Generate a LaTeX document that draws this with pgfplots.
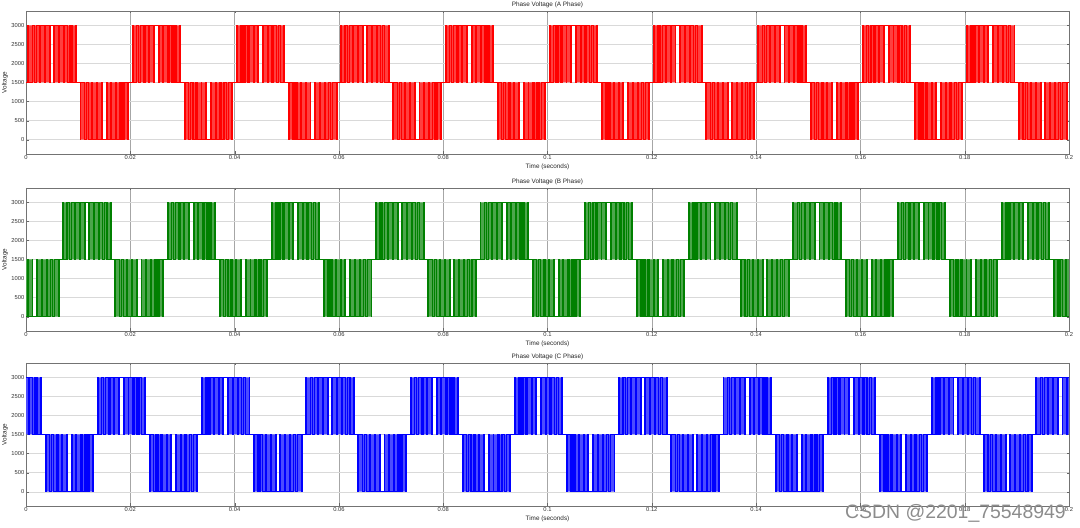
\documentclass[border=0pt]{standalone}
\usepackage{fontspec}
\setmainfont{Liberation Sans}
\usepackage{pgfplots}
\pgfplotsset{compat=1.18}
\usepackage{pgfplotstable}
\definecolor{mred}{RGB}{255,0,0}
\definecolor{mgreen}{RGB}{0,128,0}
\definecolor{mblue}{RGB}{0,0,255}

% ---------- Phase A ----------
\pgfplotstableread{
t v
0 1500
0.0004 3000
0.0046 1500
0.0054 3000
0.0096 1500
0.0104 0
0.0146 1500
0.0154 0
0.0196 1500
0.0204 3000
0.0246 1500
0.0254 3000
0.0296 1500
0.0304 0
0.0346 1500
0.0354 0
0.0396 1500
0.0404 3000
0.0446 1500
0.0454 3000
0.0496 1500
0.0504 0
0.0546 1500
0.0554 0
0.0596 1500
0.0604 3000
0.0646 1500
0.0654 3000
0.0696 1500
0.0704 0
0.0746 1500
0.0754 0
0.0796 1500
0.0804 3000
0.0846 1500
0.0854 3000
0.0896 1500
0.0904 0
0.0946 1500
0.0954 0
0.0996 1500
0.1004 3000
0.1046 1500
0.1054 3000
0.1096 1500
0.1104 0
0.1146 1500
0.1154 0
0.1196 1500
0.1204 3000
0.1246 1500
0.1254 3000
0.1296 1500
0.1304 0
0.1346 1500
0.1354 0
0.1396 1500
0.1404 3000
0.1446 1500
0.1454 3000
0.1496 1500
0.1504 0
0.1546 1500
0.1554 0
0.1596 1500
0.1604 3000
0.1646 1500
0.1654 3000
0.1696 1500
0.1704 0
0.1746 1500
0.1754 0
0.1796 1500
0.1804 3000
0.1846 1500
0.1854 3000
0.1896 1500
0.1904 0
0.1946 1500
0.1954 0
0.1996 1500
0.2 1500
}\Afill

\pgfplotstableread{
t v
0 1500
0.0004 3000
0.0005 1500
0.0012 3000
0.0016 1500
0.0020 3000
0.0026 1500
0.0028 3000
0.0036 1500
0.0037 3000
0.0045 1500
0.0046 3000
0.0054 1500
0.0055 3000
0.0063 1500
0.0064 3000
0.0072 1500
0.0074 3000
0.0080 1500
0.0084 3000
0.0088 1500
0.0095 3000
0.0096 1500
0.0104 0
0.0105 1500
0.0112 0
0.0116 1500
0.0120 0
0.0126 1500
0.0128 0
0.0136 1500
0.0137 0
0.0145 1500
0.0146 0
0.0154 1500
0.0155 0
0.0163 1500
0.0164 0
0.0172 1500
0.0174 0
0.0180 1500
0.0184 0
0.0188 1500
0.0195 0
0.0196 1500
0.0204 3000
0.0205 1500
0.0212 3000
0.0216 1500
0.0220 3000
0.0226 1500
0.0228 3000
0.0236 1500
0.0237 3000
0.0245 1500
0.0246 3000
0.0254 1500
0.0255 3000
0.0263 1500
0.0264 3000
0.0272 1500
0.0274 3000
0.0280 1500
0.0284 3000
0.0288 1500
0.0295 3000
0.0296 1500
0.0304 0
0.0305 1500
0.0312 0
0.0316 1500
0.0320 0
0.0326 1500
0.0328 0
0.0336 1500
0.0337 0
0.0345 1500
0.0346 0
0.0354 1500
0.0355 0
0.0363 1500
0.0364 0
0.0372 1500
0.0374 0
0.0380 1500
0.0384 0
0.0388 1500
0.0395 0
0.0396 1500
0.0404 3000
0.0405 1500
0.0412 3000
0.0416 1500
0.0420 3000
0.0426 1500
0.0428 3000
0.0436 1500
0.0437 3000
0.0445 1500
0.0446 3000
0.0454 1500
0.0455 3000
0.0463 1500
0.0464 3000
0.0472 1500
0.0474 3000
0.0480 1500
0.0484 3000
0.0488 1500
0.0495 3000
0.0496 1500
0.0504 0
0.0505 1500
0.0512 0
0.0516 1500
0.0520 0
0.0526 1500
0.0528 0
0.0536 1500
0.0537 0
0.0545 1500
0.0546 0
0.0554 1500
0.0555 0
0.0563 1500
0.0564 0
0.0572 1500
0.0574 0
0.0580 1500
0.0584 0
0.0588 1500
0.0595 0
0.0596 1500
0.0604 3000
0.0605 1500
0.0612 3000
0.0616 1500
0.0620 3000
0.0626 1500
0.0628 3000
0.0636 1500
0.0637 3000
0.0645 1500
0.0646 3000
0.0654 1500
0.0655 3000
0.0663 1500
0.0664 3000
0.0672 1500
0.0674 3000
0.0680 1500
0.0684 3000
0.0688 1500
0.0695 3000
0.0696 1500
0.0704 0
0.0705 1500
0.0712 0
0.0716 1500
0.0720 0
0.0726 1500
0.0728 0
0.0736 1500
0.0737 0
0.0745 1500
0.0746 0
0.0754 1500
0.0755 0
0.0763 1500
0.0764 0
0.0772 1500
0.0774 0
0.0780 1500
0.0784 0
0.0788 1500
0.0795 0
0.0796 1500
0.0804 3000
0.0805 1500
0.0812 3000
0.0816 1500
0.0820 3000
0.0826 1500
0.0828 3000
0.0836 1500
0.0837 3000
0.0845 1500
0.0846 3000
0.0854 1500
0.0855 3000
0.0863 1500
0.0864 3000
0.0872 1500
0.0874 3000
0.0880 1500
0.0884 3000
0.0888 1500
0.0895 3000
0.0896 1500
0.0904 0
0.0905 1500
0.0912 0
0.0916 1500
0.0920 0
0.0926 1500
0.0928 0
0.0936 1500
0.0937 0
0.0945 1500
0.0946 0
0.0954 1500
0.0955 0
0.0963 1500
0.0964 0
0.0972 1500
0.0974 0
0.0980 1500
0.0984 0
0.0988 1500
0.0995 0
0.0996 1500
0.1004 3000
0.1005 1500
0.1012 3000
0.1016 1500
0.1020 3000
0.1026 1500
0.1028 3000
0.1036 1500
0.1037 3000
0.1045 1500
0.1046 3000
0.1054 1500
0.1055 3000
0.1063 1500
0.1064 3000
0.1072 1500
0.1074 3000
0.1080 1500
0.1084 3000
0.1088 1500
0.1095 3000
0.1096 1500
0.1104 0
0.1105 1500
0.1112 0
0.1116 1500
0.1120 0
0.1126 1500
0.1128 0
0.1136 1500
0.1137 0
0.1145 1500
0.1146 0
0.1154 1500
0.1155 0
0.1163 1500
0.1164 0
0.1172 1500
0.1174 0
0.1180 1500
0.1184 0
0.1188 1500
0.1195 0
0.1196 1500
0.1204 3000
0.1205 1500
0.1212 3000
0.1216 1500
0.1220 3000
0.1226 1500
0.1228 3000
0.1236 1500
0.1237 3000
0.1245 1500
0.1246 3000
0.1254 1500
0.1255 3000
0.1263 1500
0.1264 3000
0.1272 1500
0.1274 3000
0.1280 1500
0.1284 3000
0.1288 1500
0.1295 3000
0.1296 1500
0.1304 0
0.1305 1500
0.1312 0
0.1316 1500
0.1320 0
0.1326 1500
0.1328 0
0.1336 1500
0.1337 0
0.1345 1500
0.1346 0
0.1354 1500
0.1355 0
0.1363 1500
0.1364 0
0.1372 1500
0.1374 0
0.1380 1500
0.1384 0
0.1388 1500
0.1395 0
0.1396 1500
0.1404 3000
0.1405 1500
0.1412 3000
0.1416 1500
0.1420 3000
0.1426 1500
0.1428 3000
0.1436 1500
0.1437 3000
0.1445 1500
0.1446 3000
0.1454 1500
0.1455 3000
0.1463 1500
0.1464 3000
0.1472 1500
0.1474 3000
0.1480 1500
0.1484 3000
0.1488 1500
0.1495 3000
0.1496 1500
0.1504 0
0.1505 1500
0.1512 0
0.1516 1500
0.1520 0
0.1526 1500
0.1528 0
0.1536 1500
0.1537 0
0.1545 1500
0.1546 0
0.1554 1500
0.1555 0
0.1563 1500
0.1564 0
0.1572 1500
0.1574 0
0.1580 1500
0.1584 0
0.1588 1500
0.1595 0
0.1596 1500
0.1604 3000
0.1605 1500
0.1612 3000
0.1616 1500
0.1620 3000
0.1626 1500
0.1628 3000
0.1636 1500
0.1637 3000
0.1645 1500
0.1646 3000
0.1654 1500
0.1655 3000
0.1663 1500
0.1664 3000
0.1672 1500
0.1674 3000
0.1680 1500
0.1684 3000
0.1688 1500
0.1695 3000
0.1696 1500
0.1704 0
0.1705 1500
0.1712 0
0.1716 1500
0.1720 0
0.1726 1500
0.1728 0
0.1736 1500
0.1737 0
0.1745 1500
0.1746 0
0.1754 1500
0.1755 0
0.1763 1500
0.1764 0
0.1772 1500
0.1774 0
0.1780 1500
0.1784 0
0.1788 1500
0.1795 0
0.1796 1500
0.1804 3000
0.1805 1500
0.1812 3000
0.1816 1500
0.1820 3000
0.1826 1500
0.1828 3000
0.1836 1500
0.1837 3000
0.1845 1500
0.1846 3000
0.1854 1500
0.1855 3000
0.1863 1500
0.1864 3000
0.1872 1500
0.1874 3000
0.1880 1500
0.1884 3000
0.1888 1500
0.1895 3000
0.1896 1500
0.1904 0
0.1905 1500
0.1912 0
0.1916 1500
0.1920 0
0.1926 1500
0.1928 0
0.1936 1500
0.1937 0
0.1945 1500
0.1946 0
0.1954 1500
0.1955 0
0.1963 1500
0.1964 0
0.1972 1500
0.1974 0
0.1980 1500
0.1984 0
0.1988 1500
0.1995 0
0.1996 1500
0.2 1500
}\Aedge

% ---------- Phase B ----------
\pgfplotstableread{
t v
0 1500
0 0
0.0013 1500
0.0021 0
0.0063 1500
0.0071 3000
0.0113 1500
0.0121 3000
0.0163 1500
0.0171 0
0.0213 1500
0.0221 0
0.0263 1500
0.0271 3000
0.0313 1500
0.0321 3000
0.0363 1500
0.0371 0
0.0413 1500
0.0421 0
0.0463 1500
0.0471 3000
0.0513 1500
0.0521 3000
0.0563 1500
0.0571 0
0.0613 1500
0.0621 0
0.0663 1500
0.0671 3000
0.0713 1500
0.0721 3000
0.0763 1500
0.0771 0
0.0813 1500
0.0821 0
0.0863 1500
0.0871 3000
0.0913 1500
0.0921 3000
0.0963 1500
0.0971 0
0.1013 1500
0.1021 0
0.1063 1500
0.1071 3000
0.1113 1500
0.1121 3000
0.1163 1500
0.1171 0
0.1213 1500
0.1221 0
0.1263 1500
0.1271 3000
0.1313 1500
0.1321 3000
0.1363 1500
0.1371 0
0.1413 1500
0.1421 0
0.1463 1500
0.1471 3000
0.1513 1500
0.1521 3000
0.1563 1500
0.1571 0
0.1613 1500
0.1621 0
0.1663 1500
0.1671 3000
0.1713 1500
0.1721 3000
0.1763 1500
0.1771 0
0.1813 1500
0.1821 0
0.1863 1500
0.1871 3000
0.1913 1500
0.1921 3000
0.1963 1500
0.1971 0
0.2 1500
}\Bfill

\pgfplotstableread{
t v
0 0
0.0003 1500
0.0004 0
0.0012 1500
0.0013 0
0.0021 1500
0.0022 0
0.0030 1500
0.0031 0
0.0039 1500
0.0041 0
0.0047 1500
0.0051 0
0.0055 1500
0.0062 0
0.0063 1500
0.0071 3000
0.0072 1500
0.0079 3000
0.0083 1500
0.0087 3000
0.0093 1500
0.0095 3000
0.0103 1500
0.0104 3000
0.0112 1500
0.0113 3000
0.0121 1500
0.0122 3000
0.0130 1500
0.0131 3000
0.0139 1500
0.0141 3000
0.0147 1500
0.0151 3000
0.0155 1500
0.0162 3000
0.0163 1500
0.0171 0
0.0172 1500
0.0179 0
0.0183 1500
0.0187 0
0.0193 1500
0.0195 0
0.0203 1500
0.0204 0
0.0212 1500
0.0213 0
0.0221 1500
0.0222 0
0.0230 1500
0.0231 0
0.0239 1500
0.0241 0
0.0247 1500
0.0251 0
0.0255 1500
0.0262 0
0.0263 1500
0.0271 3000
0.0272 1500
0.0279 3000
0.0283 1500
0.0287 3000
0.0293 1500
0.0295 3000
0.0303 1500
0.0304 3000
0.0312 1500
0.0313 3000
0.0321 1500
0.0322 3000
0.0330 1500
0.0331 3000
0.0339 1500
0.0341 3000
0.0347 1500
0.0351 3000
0.0355 1500
0.0362 3000
0.0363 1500
0.0371 0
0.0372 1500
0.0379 0
0.0383 1500
0.0387 0
0.0393 1500
0.0395 0
0.0403 1500
0.0404 0
0.0412 1500
0.0413 0
0.0421 1500
0.0422 0
0.0430 1500
0.0431 0
0.0439 1500
0.0441 0
0.0447 1500
0.0451 0
0.0455 1500
0.0462 0
0.0463 1500
0.0471 3000
0.0472 1500
0.0479 3000
0.0483 1500
0.0487 3000
0.0493 1500
0.0495 3000
0.0503 1500
0.0504 3000
0.0512 1500
0.0513 3000
0.0521 1500
0.0522 3000
0.0530 1500
0.0531 3000
0.0539 1500
0.0541 3000
0.0547 1500
0.0551 3000
0.0555 1500
0.0562 3000
0.0563 1500
0.0571 0
0.0572 1500
0.0579 0
0.0583 1500
0.0587 0
0.0593 1500
0.0595 0
0.0603 1500
0.0604 0
0.0612 1500
0.0613 0
0.0621 1500
0.0622 0
0.0630 1500
0.0631 0
0.0639 1500
0.0641 0
0.0647 1500
0.0651 0
0.0655 1500
0.0662 0
0.0663 1500
0.0671 3000
0.0672 1500
0.0679 3000
0.0683 1500
0.0687 3000
0.0693 1500
0.0695 3000
0.0703 1500
0.0704 3000
0.0712 1500
0.0713 3000
0.0721 1500
0.0722 3000
0.0730 1500
0.0731 3000
0.0739 1500
0.0741 3000
0.0747 1500
0.0751 3000
0.0755 1500
0.0762 3000
0.0763 1500
0.0771 0
0.0772 1500
0.0779 0
0.0783 1500
0.0787 0
0.0793 1500
0.0795 0
0.0803 1500
0.0804 0
0.0812 1500
0.0813 0
0.0821 1500
0.0822 0
0.0830 1500
0.0831 0
0.0839 1500
0.0841 0
0.0847 1500
0.0851 0
0.0855 1500
0.0862 0
0.0863 1500
0.0871 3000
0.0872 1500
0.0879 3000
0.0883 1500
0.0887 3000
0.0893 1500
0.0895 3000
0.0903 1500
0.0904 3000
0.0912 1500
0.0913 3000
0.0921 1500
0.0922 3000
0.0930 1500
0.0931 3000
0.0939 1500
0.0941 3000
0.0947 1500
0.0951 3000
0.0955 1500
0.0962 3000
0.0963 1500
0.0971 0
0.0972 1500
0.0979 0
0.0983 1500
0.0987 0
0.0993 1500
0.0995 0
0.1003 1500
0.1004 0
0.1012 1500
0.1013 0
0.1021 1500
0.1022 0
0.1030 1500
0.1031 0
0.1039 1500
0.1041 0
0.1047 1500
0.1051 0
0.1055 1500
0.1062 0
0.1063 1500
0.1071 3000
0.1072 1500
0.1079 3000
0.1083 1500
0.1087 3000
0.1093 1500
0.1095 3000
0.1103 1500
0.1104 3000
0.1112 1500
0.1113 3000
0.1121 1500
0.1122 3000
0.1130 1500
0.1131 3000
0.1139 1500
0.1141 3000
0.1147 1500
0.1151 3000
0.1155 1500
0.1162 3000
0.1163 1500
0.1171 0
0.1172 1500
0.1179 0
0.1183 1500
0.1187 0
0.1193 1500
0.1195 0
0.1203 1500
0.1204 0
0.1212 1500
0.1213 0
0.1221 1500
0.1222 0
0.1230 1500
0.1231 0
0.1239 1500
0.1241 0
0.1247 1500
0.1251 0
0.1255 1500
0.1262 0
0.1263 1500
0.1271 3000
0.1272 1500
0.1279 3000
0.1283 1500
0.1287 3000
0.1293 1500
0.1295 3000
0.1303 1500
0.1304 3000
0.1312 1500
0.1313 3000
0.1321 1500
0.1322 3000
0.1330 1500
0.1331 3000
0.1339 1500
0.1341 3000
0.1347 1500
0.1351 3000
0.1355 1500
0.1362 3000
0.1363 1500
0.1371 0
0.1372 1500
0.1379 0
0.1383 1500
0.1387 0
0.1393 1500
0.1395 0
0.1403 1500
0.1404 0
0.1412 1500
0.1413 0
0.1421 1500
0.1422 0
0.1430 1500
0.1431 0
0.1439 1500
0.1441 0
0.1447 1500
0.1451 0
0.1455 1500
0.1462 0
0.1463 1500
0.1471 3000
0.1472 1500
0.1479 3000
0.1483 1500
0.1487 3000
0.1493 1500
0.1495 3000
0.1503 1500
0.1504 3000
0.1512 1500
0.1513 3000
0.1521 1500
0.1522 3000
0.1530 1500
0.1531 3000
0.1539 1500
0.1541 3000
0.1547 1500
0.1551 3000
0.1555 1500
0.1562 3000
0.1563 1500
0.1571 0
0.1572 1500
0.1579 0
0.1583 1500
0.1587 0
0.1593 1500
0.1595 0
0.1603 1500
0.1604 0
0.1612 1500
0.1613 0
0.1621 1500
0.1622 0
0.1630 1500
0.1631 0
0.1639 1500
0.1641 0
0.1647 1500
0.1651 0
0.1655 1500
0.1662 0
0.1663 1500
0.1671 3000
0.1672 1500
0.1679 3000
0.1683 1500
0.1687 3000
0.1693 1500
0.1695 3000
0.1703 1500
0.1704 3000
0.1712 1500
0.1713 3000
0.1721 1500
0.1722 3000
0.1730 1500
0.1731 3000
0.1739 1500
0.1741 3000
0.1747 1500
0.1751 3000
0.1755 1500
0.1762 3000
0.1763 1500
0.1771 0
0.1772 1500
0.1779 0
0.1783 1500
0.1787 0
0.1793 1500
0.1795 0
0.1803 1500
0.1804 0
0.1812 1500
0.1813 0
0.1821 1500
0.1822 0
0.1830 1500
0.1831 0
0.1839 1500
0.1841 0
0.1847 1500
0.1851 0
0.1855 1500
0.1862 0
0.1863 1500
0.1871 3000
0.1872 1500
0.1879 3000
0.1883 1500
0.1887 3000
0.1893 1500
0.1895 3000
0.1903 1500
0.1904 3000
0.1912 1500
0.1913 3000
0.1921 1500
0.1922 3000
0.1930 1500
0.1931 3000
0.1939 1500
0.1941 3000
0.1947 1500
0.1951 3000
0.1955 1500
0.1962 3000
0.1963 1500
0.1971 0
0.1972 1500
0.1979 0
0.1983 1500
0.1987 0
0.1993 1500
0.1995 0
0.2 0
}\Bedge

% ---------- Phase C ----------
\pgfplotstableread{
t v
0 1500
0 3000
0.0029 1500
0.0037 0
0.0079 1500
0.0087 0
0.0129 1500
0.0137 3000
0.0179 1500
0.0187 3000
0.0229 1500
0.0237 0
0.0279 1500
0.0287 0
0.0329 1500
0.0337 3000
0.0379 1500
0.0387 3000
0.0429 1500
0.0437 0
0.0479 1500
0.0487 0
0.0529 1500
0.0537 3000
0.0579 1500
0.0587 3000
0.0629 1500
0.0637 0
0.0679 1500
0.0687 0
0.0729 1500
0.0737 3000
0.0779 1500
0.0787 3000
0.0829 1500
0.0837 0
0.0879 1500
0.0887 0
0.0929 1500
0.0937 3000
0.0979 1500
0.0987 3000
0.1029 1500
0.1037 0
0.1079 1500
0.1087 0
0.1129 1500
0.1137 3000
0.1179 1500
0.1187 3000
0.1229 1500
0.1237 0
0.1279 1500
0.1287 0
0.1329 1500
0.1337 3000
0.1379 1500
0.1387 3000
0.1429 1500
0.1437 0
0.1479 1500
0.1487 0
0.1529 1500
0.1537 3000
0.1579 1500
0.1587 3000
0.1629 1500
0.1637 0
0.1679 1500
0.1687 0
0.1729 1500
0.1737 3000
0.1779 1500
0.1787 3000
0.1829 1500
0.1837 0
0.1879 1500
0.1887 0
0.1929 1500
0.1937 3000
0.1979 1500
0.1987 3000
0.2 1500
}\Cfill

\pgfplotstableread{
t v
0 3000
0.0005 1500
0.0007 3000
0.0013 1500
0.0017 3000
0.0021 1500
0.0028 3000
0.0029 1500
0.0037 0
0.0038 1500
0.0045 0
0.0049 1500
0.0053 0
0.0059 1500
0.0061 0
0.0069 1500
0.0070 0
0.0078 1500
0.0079 0
0.0087 1500
0.0088 0
0.0096 1500
0.0097 0
0.0105 1500
0.0107 0
0.0113 1500
0.0117 0
0.0121 1500
0.0128 0
0.0129 1500
0.0137 3000
0.0138 1500
0.0145 3000
0.0149 1500
0.0153 3000
0.0159 1500
0.0161 3000
0.0169 1500
0.0170 3000
0.0178 1500
0.0179 3000
0.0187 1500
0.0188 3000
0.0196 1500
0.0197 3000
0.0205 1500
0.0207 3000
0.0213 1500
0.0217 3000
0.0221 1500
0.0228 3000
0.0229 1500
0.0237 0
0.0238 1500
0.0245 0
0.0249 1500
0.0253 0
0.0259 1500
0.0261 0
0.0269 1500
0.0270 0
0.0278 1500
0.0279 0
0.0287 1500
0.0288 0
0.0296 1500
0.0297 0
0.0305 1500
0.0307 0
0.0313 1500
0.0317 0
0.0321 1500
0.0328 0
0.0329 1500
0.0337 3000
0.0338 1500
0.0345 3000
0.0349 1500
0.0353 3000
0.0359 1500
0.0361 3000
0.0369 1500
0.0370 3000
0.0378 1500
0.0379 3000
0.0387 1500
0.0388 3000
0.0396 1500
0.0397 3000
0.0405 1500
0.0407 3000
0.0413 1500
0.0417 3000
0.0421 1500
0.0428 3000
0.0429 1500
0.0437 0
0.0438 1500
0.0445 0
0.0449 1500
0.0453 0
0.0459 1500
0.0461 0
0.0469 1500
0.0470 0
0.0478 1500
0.0479 0
0.0487 1500
0.0488 0
0.0496 1500
0.0497 0
0.0505 1500
0.0507 0
0.0513 1500
0.0517 0
0.0521 1500
0.0528 0
0.0529 1500
0.0537 3000
0.0538 1500
0.0545 3000
0.0549 1500
0.0553 3000
0.0559 1500
0.0561 3000
0.0569 1500
0.0570 3000
0.0578 1500
0.0579 3000
0.0587 1500
0.0588 3000
0.0596 1500
0.0597 3000
0.0605 1500
0.0607 3000
0.0613 1500
0.0617 3000
0.0621 1500
0.0628 3000
0.0629 1500
0.0637 0
0.0638 1500
0.0645 0
0.0649 1500
0.0653 0
0.0659 1500
0.0661 0
0.0669 1500
0.0670 0
0.0678 1500
0.0679 0
0.0687 1500
0.0688 0
0.0696 1500
0.0697 0
0.0705 1500
0.0707 0
0.0713 1500
0.0717 0
0.0721 1500
0.0728 0
0.0729 1500
0.0737 3000
0.0738 1500
0.0745 3000
0.0749 1500
0.0753 3000
0.0759 1500
0.0761 3000
0.0769 1500
0.0770 3000
0.0778 1500
0.0779 3000
0.0787 1500
0.0788 3000
0.0796 1500
0.0797 3000
0.0805 1500
0.0807 3000
0.0813 1500
0.0817 3000
0.0821 1500
0.0828 3000
0.0829 1500
0.0837 0
0.0838 1500
0.0845 0
0.0849 1500
0.0853 0
0.0859 1500
0.0861 0
0.0869 1500
0.0870 0
0.0878 1500
0.0879 0
0.0887 1500
0.0888 0
0.0896 1500
0.0897 0
0.0905 1500
0.0907 0
0.0913 1500
0.0917 0
0.0921 1500
0.0928 0
0.0929 1500
0.0937 3000
0.0938 1500
0.0945 3000
0.0949 1500
0.0953 3000
0.0959 1500
0.0961 3000
0.0969 1500
0.0970 3000
0.0978 1500
0.0979 3000
0.0987 1500
0.0988 3000
0.0996 1500
0.0997 3000
0.1005 1500
0.1007 3000
0.1013 1500
0.1017 3000
0.1021 1500
0.1028 3000
0.1029 1500
0.1037 0
0.1038 1500
0.1045 0
0.1049 1500
0.1053 0
0.1059 1500
0.1061 0
0.1069 1500
0.1070 0
0.1078 1500
0.1079 0
0.1087 1500
0.1088 0
0.1096 1500
0.1097 0
0.1105 1500
0.1107 0
0.1113 1500
0.1117 0
0.1121 1500
0.1128 0
0.1129 1500
0.1137 3000
0.1138 1500
0.1145 3000
0.1149 1500
0.1153 3000
0.1159 1500
0.1161 3000
0.1169 1500
0.1170 3000
0.1178 1500
0.1179 3000
0.1187 1500
0.1188 3000
0.1196 1500
0.1197 3000
0.1205 1500
0.1207 3000
0.1213 1500
0.1217 3000
0.1221 1500
0.1228 3000
0.1229 1500
0.1237 0
0.1238 1500
0.1245 0
0.1249 1500
0.1253 0
0.1259 1500
0.1261 0
0.1269 1500
0.1270 0
0.1278 1500
0.1279 0
0.1287 1500
0.1288 0
0.1296 1500
0.1297 0
0.1305 1500
0.1307 0
0.1313 1500
0.1317 0
0.1321 1500
0.1328 0
0.1329 1500
0.1337 3000
0.1338 1500
0.1345 3000
0.1349 1500
0.1353 3000
0.1359 1500
0.1361 3000
0.1369 1500
0.1370 3000
0.1378 1500
0.1379 3000
0.1387 1500
0.1388 3000
0.1396 1500
0.1397 3000
0.1405 1500
0.1407 3000
0.1413 1500
0.1417 3000
0.1421 1500
0.1428 3000
0.1429 1500
0.1437 0
0.1438 1500
0.1445 0
0.1449 1500
0.1453 0
0.1459 1500
0.1461 0
0.1469 1500
0.1470 0
0.1478 1500
0.1479 0
0.1487 1500
0.1488 0
0.1496 1500
0.1497 0
0.1505 1500
0.1507 0
0.1513 1500
0.1517 0
0.1521 1500
0.1528 0
0.1529 1500
0.1537 3000
0.1538 1500
0.1545 3000
0.1549 1500
0.1553 3000
0.1559 1500
0.1561 3000
0.1569 1500
0.1570 3000
0.1578 1500
0.1579 3000
0.1587 1500
0.1588 3000
0.1596 1500
0.1597 3000
0.1605 1500
0.1607 3000
0.1613 1500
0.1617 3000
0.1621 1500
0.1628 3000
0.1629 1500
0.1637 0
0.1638 1500
0.1645 0
0.1649 1500
0.1653 0
0.1659 1500
0.1661 0
0.1669 1500
0.1670 0
0.1678 1500
0.1679 0
0.1687 1500
0.1688 0
0.1696 1500
0.1697 0
0.1705 1500
0.1707 0
0.1713 1500
0.1717 0
0.1721 1500
0.1728 0
0.1729 1500
0.1737 3000
0.1738 1500
0.1745 3000
0.1749 1500
0.1753 3000
0.1759 1500
0.1761 3000
0.1769 1500
0.1770 3000
0.1778 1500
0.1779 3000
0.1787 1500
0.1788 3000
0.1796 1500
0.1797 3000
0.1805 1500
0.1807 3000
0.1813 1500
0.1817 3000
0.1821 1500
0.1828 3000
0.1829 1500
0.1837 0
0.1838 1500
0.1845 0
0.1849 1500
0.1853 0
0.1859 1500
0.1861 0
0.1869 1500
0.1870 0
0.1878 1500
0.1879 0
0.1887 1500
0.1888 0
0.1896 1500
0.1897 0
0.1905 1500
0.1907 0
0.1913 1500
0.1917 0
0.1921 1500
0.1928 0
0.1929 1500
0.1937 3000
0.1938 1500
0.1945 3000
0.1949 1500
0.1953 3000
0.1959 1500
0.1961 3000
0.1969 1500
0.1970 3000
0.1978 1500
0.1979 3000
0.1987 1500
0.1988 3000
0.1996 1500
0.1997 3000
0.2 3000
}\Cedge

\pgfplotsset{
  phase/.style={
    anchor=south west,
    scale only axis, width=1043bp, height=143bp,
    xmin=0, xmax=0.2, ymin=-375, ymax=3375,
    xtick={0,0.02,0.04,0.06,0.08,0.1,0.12,0.14,0.16,0.18,0.2},
    xticklabels={0,0.02,0.04,0.06,0.08,0.1,0.12,0.14,0.16,0.18,0.2},
    ytick={0,500,1000,1500,2000,2500,3000},
    yticklabels={0,500,1000,1500,2000,2500,3000},
    xmajorgrids, ymajorgrids,
    x grid style={black!35},
    y grid style={black!15},
    tick align=inside, major tick length=2.5bp,
    tick style={black!60},
    axis line style={black!55},
    tick label style={font=\fontsize{5.8}{6}\selectfont, text=black!80},
    xticklabel style={inner sep=1.5bp},
    yticklabel style={inner sep=1.5bp},
    /pgf/number format/assume math mode=true,
    xlabel={Time (seconds)}, ylabel={Voltage},
    label style={font=\fontsize{6.4}{7}\selectfont, text=black!85},
    xlabel style={at={(axis description cs:0.5,0)}, anchor=center, yshift=-13bp},
    ylabel style={at={(axis description cs:-0.0201,0.5)}, anchor=center},
    every axis title shift=0pt,
    title style={at={(axis description cs:0.5,1)}, anchor=center, yshift=6bp,
      font=\fontsize{6.4}{7}\selectfont, text=black!85},
  }
}

\begin{document}
\begin{tikzpicture}
\useasboundingbox (0,0) rectangle (1080bp,528bp);

\begin{axis}[phase, at={(26bp,374bp)}, title={Phase Voltage (A Phase)}]
\addplot[const plot, fill=mred!75, draw=none] table[x=t, y=v] {\Afill};
\addplot[const plot, mred, line width=1.4bp] table[x=t, y=v] {\Aedge};
\end{axis}

\begin{axis}[phase, at={(26bp,197bp)}, title={Phase Voltage (B Phase)}]
\addplot[const plot, fill=mgreen!70, draw=none] table[x=t, y=v] {\Bfill};
\addplot[const plot, mgreen, line width=1.4bp] table[x=t, y=v] {\Bedge};
\end{axis}

\begin{axis}[phase, at={(26bp,22bp)}, title={Phase Voltage (C Phase)}]
\addplot[const plot, fill=mblue!70, draw=none] table[x=t, y=v] {\Cfill};
\addplot[const plot, mblue, line width=1.4bp] table[x=t, y=v] {\Cedge};
\end{axis}

\node[anchor=base east, inner sep=0pt, text=black!45,
      font=\fontsize{19.5}{20}\selectfont] at (1066bp,10bp) {CSDN @2201\_75548949};
\end{tikzpicture}
\end{document}
